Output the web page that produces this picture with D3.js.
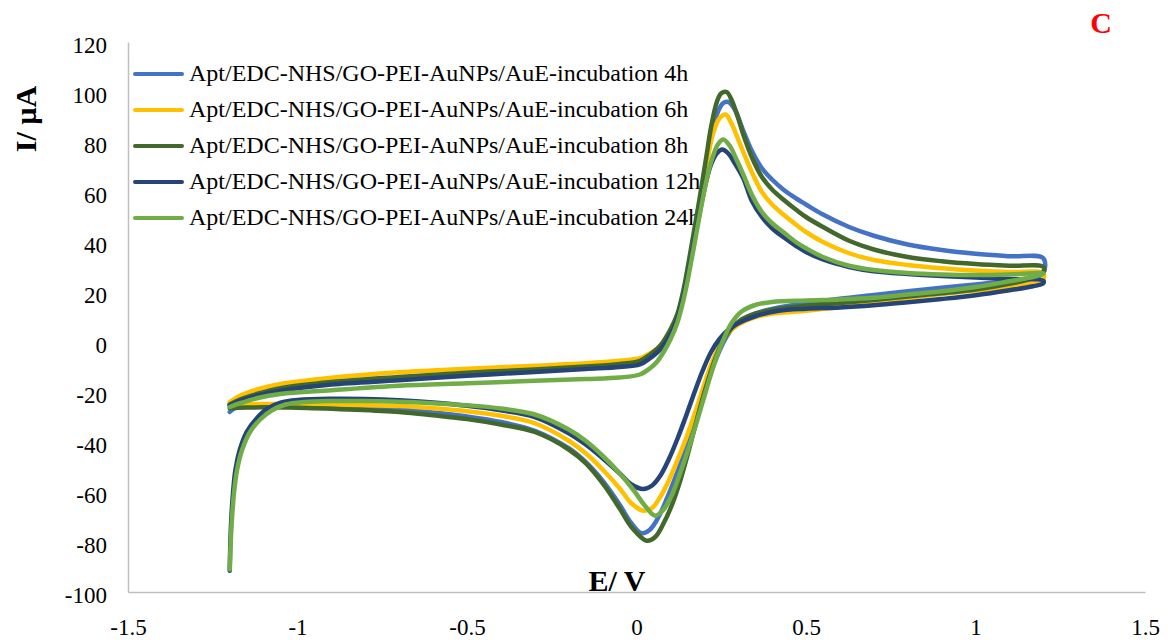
<!DOCTYPE html>
<html>
<head>
<meta charset="utf-8">
<script src="https://cdn.jsdelivr.net/npm/d3@7"></script>
<style>
  html, body { margin: 0; padding: 0; background: #fff; }
  svg { display: block; }
  text { font-family: "Liberation Serif", "Times New Roman", serif; }
</style>
</head>
<body>
<svg id="chart" width="1168" height="644"></svg>
<script>
// ---------------- DATA ----------------
const seriesNames = [
  "Apt/EDC-NHS/GO-PEI-AuNPs/AuE-incubation 4h",
  "Apt/EDC-NHS/GO-PEI-AuNPs/AuE-incubation 6h",
  "Apt/EDC-NHS/GO-PEI-AuNPs/AuE-incubation 8h",
  "Apt/EDC-NHS/GO-PEI-AuNPs/AuE-incubation 12h",
  "Apt/EDC-NHS/GO-PEI-AuNPs/AuE-incubation 24h"
];
const seriesColors = ["#4472C4", "#FFC000", "#43682B", "#264478", "#70AD47"];

const xTicks = [-1.5, -1, -0.5, 0, 0.5, 1, 1.5];
const yTicks = [-100, -80, -60, -40, -20, 0, 20, 40, 60, 80, 100, 120];

// [E (V), I (µA)] points, in scan order
const lower4h = [[-1.2,-28],[-1.185,-26.5],[-1.15,-25.8],[-1.0,-25.6],[-0.85,-26],[-0.7,-27],[-0.6,-28.2],[-0.5,-29.8],[-0.4,-32],[-0.3,-35.5],[-0.2,-42.5],[-0.15,-48],[-0.1,-55.5],[-0.05,-65],[-0.015,-72.5],[0.015,-76.5],[0.04,-75],[0.065,-70],[0.09,-62.5],[0.115,-54],[0.14,-45],[0.165,-35.5],[0.19,-25],[0.215,-14],[0.24,-5],[0.265,2],[0.29,6.5],[0.32,9.5],[0.36,11.8],[0.42,13.8],[0.5,15.5],[0.6,17.3],[0.7,18.8],[0.8,20.3],[0.9,21.7],[1.0,23],[1.1,24.5],[1.17,25.7],[1.2,27.5]];
const upper4h = [[1.2,33.5],[1.1,34.3],[1.0,35.3],[0.9,36.8],[0.8,39],[0.7,42.5],[0.627,46],[0.55,51],[0.5,55],[0.47,57.5],[0.433,61],[0.4,65],[0.37,69.5],[0.34,76.5],[0.315,84.5],[0.29,93],[0.271,96],[0.255,95.5],[0.237,91],[0.22,82],[0.207,72],[0.188,57],[0.168,41],[0.15,27],[0.138,19.5],[0.12,10],[0.1,4],[0.07,-2.5],[0.04,-6],[0.01,-8.5],[-0.05,-9.8],[-0.15,-10.5],[-0.3,-11.5],[-0.5,-12.7],[-0.65,-14],[-0.8,-15.5],[-0.95,-17.3],[-1.05,-19],[-1.12,-21],[-1.17,-23],[-1.2,-25]];

const lower6h = [[-1.2,-25],[-1.15,-24.8],[-1.0,-24.8],[-0.85,-25.1],[-0.7,-25.6],[-0.6,-26.5],[-0.5,-27.7],[-0.4,-29.5],[-0.3,-32.5],[-0.2,-39.5],[-0.15,-44.5],[-0.1,-51],[-0.05,-58.5],[-0.015,-64.5],[0.02,-67.5],[0.045,-66.5],[0.07,-62],[0.095,-55.5],[0.12,-47.5],[0.145,-39],[0.17,-29.5],[0.195,-19],[0.22,-9],[0.245,-1.5],[0.27,3.5],[0.3,7],[0.34,9.5],[0.393,11.2],[0.5,12.5],[0.6,14],[0.7,15.9],[0.8,17.7],[0.9,19.2],[1.0,20.5],[1.1,22],[1.17,23.5],[1.2,25]];
const upper6h = [[1.2,27.5],[1.1,28],[1.0,28.6],[0.9,29.5],[0.8,30.8],[0.7,32.8],[0.627,35.5],[0.55,40],[0.5,44],[0.47,47],[0.433,51],[0.4,55],[0.37,60],[0.34,68],[0.315,76],[0.3,81],[0.28,87.5],[0.263,91],[0.245,89.5],[0.225,83],[0.207,71],[0.188,56],[0.168,40],[0.15,26.5],[0.138,19],[0.12,10],[0.1,4.5],[0.07,-1.5],[0.04,-4.5],[0.01,-6.5],[-0.05,-7.5],[-0.15,-8.5],[-0.3,-9.5],[-0.5,-10.7],[-0.7,-12.1],[-0.9,-14.3],[-1.05,-16.8],[-1.12,-19],[-1.17,-21.5],[-1.2,-24]];

const lower8h = [[-1.2,-26.5],[-1.15,-26.2],[-1.0,-26.3],[-0.85,-27],[-0.7,-28],[-0.6,-29.3],[-0.5,-30.8],[-0.4,-33],[-0.3,-36],[-0.2,-43],[-0.15,-48.5],[-0.1,-56.5],[-0.05,-66.5],[-0.015,-74],[0.03,-79.5],[0.055,-78],[0.08,-72.5],[0.105,-65],[0.13,-55],[0.155,-43],[0.18,-30],[0.205,-18],[0.23,-7.5],[0.255,0.5],[0.28,5.5],[0.31,9],[0.35,11.3],[0.42,13.3],[0.5,14.5],[0.6,15.6],[0.7,16.8],[0.8,18.2],[0.9,19.5],[1.0,21],[1.1,23.3],[1.17,25.5],[1.2,28]];
const upper8h = [[1.2,30],[1.1,30.5],[1.0,31.2],[0.9,32.3],[0.8,34],[0.7,37],[0.627,40.5],[0.55,46],[0.5,50],[0.47,53],[0.433,57],[0.4,61],[0.37,66],[0.34,74],[0.315,83],[0.3,89.5],[0.28,97],[0.266,100],[0.25,99.5],[0.237,96],[0.22,86],[0.207,75],[0.188,59],[0.168,43],[0.15,29],[0.138,20.5],[0.12,11],[0.1,5],[0.07,-1.5],[0.04,-5],[0.01,-7.5],[-0.05,-8.8],[-0.15,-9.8],[-0.3,-11],[-0.5,-12.3],[-0.7,-14],[-0.9,-16],[-1.05,-18.5],[-1.12,-20.8],[-1.17,-23],[-1.2,-25]];

const spike12h = [[-1.2,-91.5],[-1.198,-80],[-1.195,-70],[-1.19,-60],[-1.183,-51],[-1.17,-43],[-1.15,-36],[-1.12,-30.5],[-1.09,-26.8],[-1.05,-24.3],[-1.0,-23.2]];
const lower12h = [[-0.9,-22.7],[-0.8,-22.8],[-0.7,-23.3],[-0.6,-24.2],[-0.5,-25.5],[-0.4,-27.3],[-0.3,-30],[-0.2,-36.5],[-0.15,-41],[-0.1,-46.5],[-0.05,-52.5],[-0.015,-57],[0.02,-58.8],[0.045,-57.5],[0.07,-53.5],[0.095,-47],[0.12,-39],[0.145,-30],[0.17,-20.5],[0.195,-11.5],[0.22,-4],[0.245,1.2],[0.27,4.8],[0.3,7.5],[0.35,10.3],[0.42,12.5],[0.5,13.3],[0.6,13.8],[0.7,14.7],[0.8,15.9],[0.9,17.2],[1.0,18.7],[1.1,20.7],[1.17,22.3],[1.2,23.5]];
const upper12h = [[1.2,24.5],[1.1,25.2],[1.0,25.8],[0.9,26.4],[0.8,27.2],[0.7,28.3],[0.627,30],[0.55,33],[0.5,36],[0.47,38.5],[0.433,42],[0.4,45.5],[0.37,50],[0.34,56.5],[0.315,65.5],[0.29,71.5],[0.27,75.5],[0.253,77],[0.237,75.5],[0.22,71],[0.207,65],[0.188,53],[0.168,38.5],[0.15,25.5],[0.138,18],[0.12,9],[0.1,3],[0.07,-3],[0.04,-6.5],[0.01,-9],[-0.05,-10],[-0.15,-10.8],[-0.3,-12],[-0.5,-13.5],[-0.7,-15.3],[-0.9,-17],[-1.05,-19.5],[-1.12,-21.5],[-1.17,-23.5],[-1.2,-25.5]];

const spike24h = [[-1.2,-91],[-1.197,-80],[-1.193,-70],[-1.187,-60],[-1.178,-51],[-1.163,-43],[-1.14,-36],[-1.11,-31],[-1.075,-27.3],[-1.035,-25],[-0.98,-24]];
const lower24h = [[-0.9,-23.6],[-0.8,-23.6],[-0.7,-23.9],[-0.6,-24.5],[-0.5,-25.3],[-0.4,-26.6],[-0.3,-29],[-0.2,-35],[-0.15,-39.5],[-0.1,-45.5],[-0.05,-52.5],[-0.01,-59],[0.025,-65.5],[0.055,-69.5],[0.08,-67],[0.105,-61],[0.13,-52],[0.155,-42],[0.18,-31],[0.205,-19.5],[0.23,-8.5],[0.255,0.5],[0.28,7.5],[0.31,12.2],[0.35,14.8],[0.4,16],[0.5,16.6],[0.6,17],[0.7,17.7],[0.8,19],[0.9,20.3],[1.0,22],[1.1,24.3],[1.17,26],[1.2,27.3]];
const upper24h = [[1.2,27.5],[1.1,27],[1.0,26.8],[0.9,27],[0.8,27.6],[0.7,28.8],[0.627,30.5],[0.55,34],[0.5,37.5],[0.47,40],[0.433,44],[0.4,47.5],[0.37,52],[0.34,59],[0.315,67],[0.295,73],[0.275,78.5],[0.256,81],[0.24,79],[0.22,72],[0.207,65],[0.188,52],[0.168,37],[0.15,24],[0.138,16.5],[0.12,7.5],[0.1,1],[0.08,-4],[0.06,-8],[0.04,-10.5],[0.01,-13],[-0.05,-14.2],[-0.15,-14.8],[-0.3,-15.5],[-0.5,-16.5],[-0.7,-17.5],[-0.9,-19.3],[-1.05,-20.8],[-1.12,-22.5],[-1.17,-24.5],[-1.2,-26]];

const seriesPoints = [
  lower4h.concat(upper4h),
  lower6h.concat(upper6h),
  lower8h.concat(upper8h),
  spike12h.concat(lower12h, upper12h),
  spike24h.concat(lower24h, upper24h)
];

// ---------------- CHART ----------------
const svg = d3.select("#chart");
const x = d3.scaleLinear().domain([-1.5, 1.5]).range([128, 1145]);
const y = d3.scaleLinear().domain([-100, 120]).range([592, 42]);
const axisColor = "#BFBFBF";
const tickFont = 23;
const legendFont = 24;

// y axis
const gy = svg.append("g").attr("transform", `translate(${x(-1.5)},0)`)
  .call(d3.axisLeft(y).tickValues(yTicks).tickSize(0).tickPadding(21).tickFormat(d => String(d)));
// x axis
const gx = svg.append("g").attr("transform", `translate(0,${y(-100)})`)
  .call(d3.axisBottom(x).tickValues(xTicks).tickSize(0).tickPadding(27).tickFormat(d => String(d)));

[gx, gy].forEach(g => {
  g.attr("font-family", null);
  g.select(".domain").attr("stroke", axisColor).attr("stroke-width", 1.5);
  g.selectAll("text")
    .attr("fill", "#000")
    .style("font-family", "'Liberation Serif', serif")
    .style("font-size", tickFont + "px");
});
gy.selectAll("text").attr("dy", "0.46em");

// legend (drawn beneath curves)
const legend = svg.append("g");
seriesNames.forEach((name, i) => {
  const ly = 74 + i * 36;
  legend.append("line")
    .attr("x1", 135).attr("x2", 182).attr("y1", ly).attr("y2", ly)
    .attr("stroke", seriesColors[i]).attr("stroke-width", 4).attr("stroke-linecap", "round");
  legend.append("text")
    .attr("x", 189).attr("y", ly + 7)
    .style("font-family", "'Liberation Serif', serif")
    .style("font-size", legendFont + "px")
    .attr("fill", "#000")
    .text(name);
});

// curves
const line = d3.line()
  .x(d => x(d[0]))
  .y(d => y(d[1]))
  .curve(d3.curveCatmullRom.alpha(0.5));

svg.append("g").selectAll("path")
  .data(seriesPoints)
  .join("path")
  .attr("d", d => line(d))
  .attr("fill", "none")
  .attr("stroke", (d, i) => seriesColors[i])
  .attr("stroke-width", 4.5)
  .attr("stroke-linejoin", "round")
  .attr("stroke-linecap", "round");

// axis titles
svg.append("text")
  .attr("x", 617).attr("y", 591)
  .attr("text-anchor", "middle")
  .style("font-size", "30px").style("font-weight", "bold")
  .text("E/ V");

svg.append("text")
  .attr("transform", "translate(36,119) rotate(-90)")
  .attr("text-anchor", "middle")
  .style("font-size", "30px").style("font-weight", "bold")
  .text("I/ µA");

// panel label
svg.append("text")
  .attr("x", 1101).attr("y", 33)
  .attr("text-anchor", "middle")
  .attr("fill", "#FF0000")
  .style("font-size", "30px").style("font-weight", "bold")
  .text("C");
</script>
</body>
</html>
